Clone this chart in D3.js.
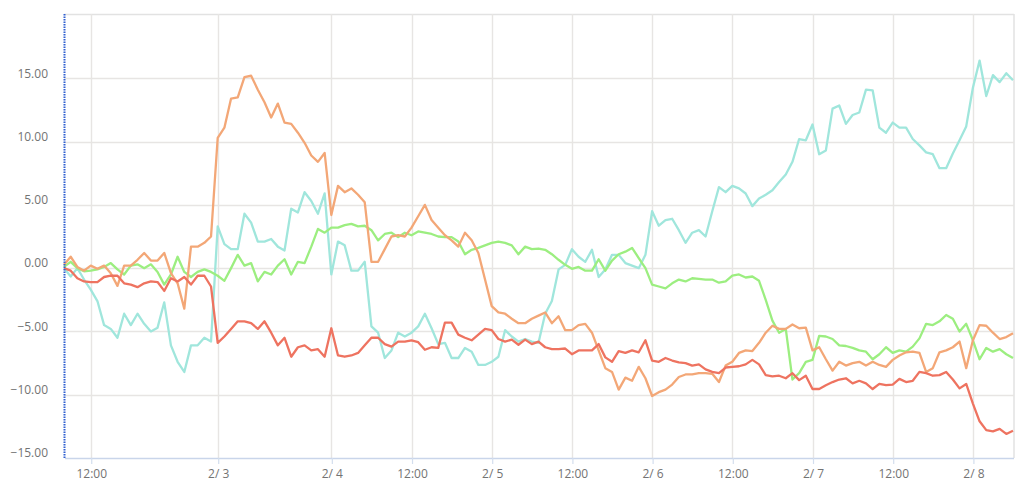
<!DOCTYPE html>
<html>
<head>
<meta charset="utf-8">
<script src="https://cdn.jsdelivr.net/npm/d3@7"></script>
<style>
  html, body { margin: 0; padding: 0; background: #ffffff; }
  svg { display: block; }
  text { font-family: "Open Sans", "DejaVu Sans", sans-serif; }
</style>
</head>
<body>
<svg id="chart" width="1024" height="494"></svg>
<script>
// ---- data ----
const xTickIndex  = [4, 23, 40, 52, 64, 76, 88, 100, 112, 124, 136];
const xTickLabels = ["12:00", "2/ 3", "2/ 4", "12:00", "2/ 5", "12:00", "2/ 6", "12:00", "2/ 7", "12:00", "2/ 8"];
const yTickValues = [-15, -10, -5, 0, 5, 10, 15];

const seriesCyan = [0,-0.66,0,-0.9,-1.7,-2.6,-4.5,-4.8,-5.5,-3.6,-4.5,-3.6,-4.4,-5.0,-4.7,-2.7,-6.1,-7.4,-8.2,-6.1,-6.1,-5.5,-5.8,3.3,1.9,1.5,1.5,4.3,3.6,2.1,2.1,2.3,1.7,1.4,4.7,4.4,6.0,5.3,4.3,5.9,-0.5,2.1,1.8,-0.2,-0.2,0.5,-4.6,-5.1,-7.1,-6.5,-5.1,-5.4,-5.1,-4.6,-3.6,-4.75,-6.0,-5.9,-7.1,-7.1,-6.3,-6.6,-7.65,-7.65,-7.4,-7.0,-4.9,-5.4,-5.8,-5.6,-5.8,-5.9,-3.6,-2.6,-0.1,0.26,1.5,0.9,0.5,1.45,-0.7,-0.1,1.05,1.05,0.4,0.2,0,1.05,4.5,3.35,3.8,3.9,3.0,2.0,2.8,3.0,2.5,4.5,6.4,6.0,6.5,6.3,5.9,4.9,5.5,5.8,6.15,6.8,7.4,8.4,10.2,10.1,11.35,9.0,9.3,12.6,12.85,11.4,12.1,12.3,14.1,14.05,11.1,10.7,11.5,11.1,11.1,10.2,9.7,9.15,9.0,7.9,7.9,9.05,10.1,11.2,14.25,16.4,13.6,15.25,14.7,15.4,14.85];

const seriesOrange = [0.26,0.9,0.1,-0.2,0.2,-0.05,0.2,-0.4,-1.4,0.2,0.2,0.66,1.2,0.6,0.6,1.2,-0.4,-1.2,-3.2,1.7,1.7,2.0,2.5,10.3,11.1,13.4,13.5,15.1,15.2,14.1,13.1,11.9,13.0,11.5,11.4,10.7,9.9,8.9,8.4,9.1,4.2,6.5,6.0,6.3,5.8,5.2,0.5,0.5,1.5,2.5,2.6,2.5,3.2,4.1,5.0,3.8,3.2,2.6,2.2,1.7,2.8,2.2,1.2,-0.9,-3.0,-3.5,-3.6,-4.0,-4.35,-4.35,-4.0,-3.75,-3.5,-4.35,-3.8,-4.9,-4.9,-4.5,-4.4,-5.1,-6.5,-7.9,-8.2,-9.6,-8.65,-8.9,-7.8,-8.7,-10.1,-9.8,-9.6,-9.2,-8.6,-8.4,-8.4,-8.3,-8.3,-8.35,-9.0,-7.7,-7.4,-6.7,-6.5,-6.55,-5.9,-5.1,-4.55,-4.8,-4.8,-4.45,-4.75,-4.7,-6.5,-6.25,-7.2,-8.1,-7.4,-7.7,-7.5,-7.4,-7.7,-7.4,-7.65,-7.8,-7.25,-6.9,-6.65,-6.6,-6.7,-8.2,-7.9,-6.65,-6.5,-6.25,-5.8,-7.9,-5.7,-4.5,-4.55,-5.1,-5.6,-5.45,-5.15];

const seriesGreen = [0.1,0.5,0,-0.25,-0.2,-0.1,0.1,0.4,-0.1,-0.5,0.2,0.3,0,0.3,-0.3,-1.3,-0.5,0.9,-0.3,-0.7,-0.3,-0.1,-0.3,-0.6,-1.0,0,1.05,0.2,0.4,-1.05,-0.3,-0.5,0.2,0.7,-0.5,0.5,0.4,1.7,3.1,2.8,3.2,3.2,3.4,3.5,3.3,3.35,3.0,2.2,2.7,2.8,2.45,2.8,2.6,2.9,2.8,2.7,2.5,2.45,2.45,2.1,1.1,1.45,1.6,1.8,2.0,2.1,2.0,1.8,1.1,1.7,1.5,1.55,1.45,1.1,0.66,0.26,-0.05,0.1,-0.2,-0.2,0.7,-0.2,0.6,1.1,1.3,1.6,0.8,0,-1.3,-1.45,-1.6,-1.2,-0.9,-1.05,-0.8,-0.85,-0.9,-0.9,-1.15,-1.05,-0.6,-0.5,-0.74,-0.66,-1.0,-2.5,-4.15,-5.1,-4.8,-8.8,-8.3,-7.4,-7.25,-5.35,-5.4,-5.6,-6.1,-6.15,-6.3,-6.5,-6.6,-7.2,-6.8,-6.25,-6.7,-6.5,-6.6,-6.2,-5.55,-4.4,-4.5,-4.2,-3.7,-4.0,-5.0,-4.4,-5.7,-7.2,-6.3,-6.6,-6.4,-6.8,-7.1];

const seriesRed = [0,-0.2,-0.8,-1.05,-1.1,-1.1,-0.7,-0.6,-0.6,-1.2,-1.3,-1.5,-1.2,-1.05,-1.1,-1.8,-0.8,-1.05,-0.7,-1.3,-0.6,-0.6,-1.45,-5.9,-5.4,-4.8,-4.2,-4.2,-4.35,-4.8,-4.2,-5.1,-6.1,-5.5,-7.0,-6.25,-6.1,-6.5,-6.4,-7.0,-4.75,-6.9,-7.0,-6.9,-6.7,-6.1,-5.5,-5.5,-6.0,-6.2,-5.8,-5.8,-5.7,-5.85,-6.45,-6.25,-6.3,-4.3,-4.3,-5.25,-5.5,-5.7,-5.25,-4.8,-4.9,-5.6,-5.8,-5.65,-6.05,-5.65,-6.0,-5.8,-6.25,-6.4,-6.4,-6.35,-6.8,-6.5,-6.5,-6.5,-6.0,-7.05,-7.4,-6.55,-6.7,-6.5,-6.65,-5.7,-7.3,-7.4,-7.1,-7.3,-7.45,-7.5,-7.7,-7.6,-8.0,-8.2,-8.3,-7.85,-7.8,-7.75,-7.6,-7.25,-7.6,-8.45,-8.55,-8.5,-8.7,-8.3,-8.85,-8.5,-9.55,-9.55,-9.25,-9.0,-8.8,-8.7,-9.1,-8.9,-9.1,-9.55,-9.15,-9.25,-9.2,-8.75,-9.0,-8.9,-8.2,-8.3,-8.5,-8.45,-8.2,-8.8,-9.5,-9.15,-10.7,-12.1,-12.8,-12.9,-12.7,-13.1,-12.85];

const seriesList = [
  { values: seriesCyan,   color: "#a0e6dc" },
  { values: seriesGreen,  color: "#9cee80" },
  { values: seriesOrange, color: "#f3a777" },
  { values: seriesRed,    color: "#ee7360" }
];

// ---- layout ----
const plotLeft = 64, plotRight = 1013, plotTop = 15, plotBottom = 458;
const svg = d3.select("#chart");

const x = d3.scaleLinear().domain([0, seriesCyan.length - 1]).range([plotLeft, plotRight]);
const y = d3.scaleLinear().domain([-15, 20]).range([plotBottom, plotTop]);

// plot border (top / right)
svg.append("line").attr("x1", plotLeft).attr("x2", plotRight + 1).attr("y1", 14.5).attr("y2", 14.5)
  .attr("stroke", "#e2e2e2").attr("stroke-width", 1.5);
svg.append("line").attr("x1", plotRight + 1).attr("x2", plotRight + 1).attr("y1", 14).attr("y2", plotBottom)
  .attr("stroke", "#e2e2e2").attr("stroke-width", 1.5);

// horizontal grid
svg.append("g").selectAll("line").data(yTickValues.filter(v => v > -15)).join("line")
  .attr("x1", plotLeft).attr("x2", plotRight + 1)
  .attr("y1", d => Math.round(y(d)) + 0.5).attr("y2", d => Math.round(y(d)) + 0.5)
  .attr("stroke", "#e7e5e3").attr("stroke-width", 1.4);

// vertical grid
svg.append("g").selectAll("line").data(xTickIndex).join("line")
  .attr("x1", d => Math.round(x(d)) + 0.5).attr("x2", d => Math.round(x(d)) + 0.5)
  .attr("y1", 14).attr("y2", plotBottom)
  .attr("stroke", "#e7e5e3").attr("stroke-width", 1.4);

// x axis
const xAxis = d3.axisBottom(x).tickValues(xTickIndex)
  .tickFormat((d, i) => xTickLabels[i]).tickSize(6).tickPadding(5).tickSizeOuter(0);
const gx = svg.append("g").attr("transform", `translate(0.5,${plotBottom})`).call(xAxis);
gx.select(".domain").attr("stroke", "#c9d5ea").attr("stroke-width", 1.5);
gx.selectAll(".tick line").attr("stroke", "#d3deee").attr("stroke-width", 1.2);
gx.selectAll(".tick text").attr("fill", "#737373").attr("font-size", 12)
  .attr("font-family", "'Open Sans', 'DejaVu Sans', sans-serif");

// y axis labels
const yAxis = d3.axisLeft(y).tickValues(yTickValues).tickFormat(d3.format(".2f")).tickSize(0).tickPadding(16);
const gy = svg.append("g").attr("transform", `translate(${plotLeft},0)`).call(yAxis);
gy.select(".domain").remove();
gy.selectAll(".tick text").attr("fill", "#737373").attr("font-size", 12)
  .attr("font-family", "'Open Sans', 'DejaVu Sans', sans-serif")
  .attr("dy", "-0.1em");

// lines
const line = d3.line().x((d, i) => x(i)).y(d => y(d));
svg.append("g").selectAll("path").data(seriesList).join("path")
  .attr("d", s => line(s.values))
  .attr("fill", "none")
  .attr("stroke", s => s.color)
  .attr("stroke-width", 2.3)
  .attr("stroke-linejoin", "round");

// y axis line (blue dotted)
svg.append("line").attr("x1", plotLeft + 0.5).attr("x2", plotLeft + 0.5).attr("y1", 14).attr("y2", plotBottom)
  .attr("stroke", "#2f5fd0").attr("stroke-width", 2).attr("stroke-dasharray", "1.5,1");
</script>
</body>
</html>
